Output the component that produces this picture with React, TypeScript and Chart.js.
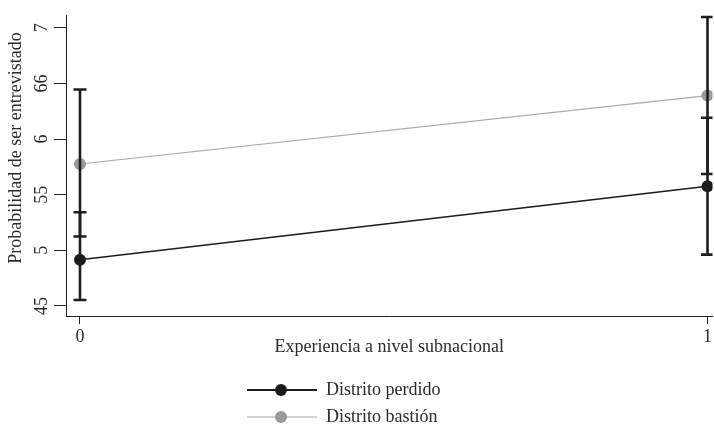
import React, { useEffect, useRef } from "react";
import { Chart, registerables } from "chart.js";

Chart.register(...registerables);

// ---------- data ----------
const xCategories = [0, 1];
const xTickLabels = ["0", "1"];
const seriesNames = ["Distrito perdido", "Distrito bastión"];
const perdidoValues = [0.4916, 0.5577];
const perdidoLower = [0.4554, 0.4962];
const perdidoUpper = [0.5342, 0.6192];
const bastionValues = [0.5776, 0.6391];
const bastionLower = [0.5124, 0.5686];
const bastionUpper = [0.6446, 0.7097];
const yTickValues = [0.45, 0.5, 0.55, 0.6, 0.65, 0.7];
const yTickLabels = ["45", "5", "55", "6", "66", "7"];
const xTitle = "Experiencia a nivel subnacional";
const yTitle = "Probabilidad de ser entrevistado";

// ---------- styles ----------
const FONT = "'Liberation Serif', 'DejaVu Serif', serif";
const BLACK = "#1b1b1b";
const GRAY_LINE = "#a8a8a8";
const GRAY_DOT = "#9a9a9a";
const WHISKER = "#1e1e1e";
const TEXT = "#2a2a2a";

const overlayPlugin = {
  id: "stataOverlay",
  afterDraw(chart: any) {
    const ctx = chart.ctx;
    ctx.save();
    // y-axis title
    ctx.fillStyle = TEXT;
    ctx.font = `18px ${FONT}`;
    ctx.textAlign = "center";
    ctx.textBaseline = "middle";
    ctx.translate(16, 148);
    ctx.rotate(-Math.PI / 2);
    ctx.fillText(yTitle, 0, 0);
    ctx.restore();

    // legend
    const entries = [
      { name: seriesNames[0], y: 390, lw: 2.2 },
      { name: seriesNames[1], y: 417, lw: 1.2 },
    ];
    ctx.save();
    entries.forEach((e) => {
      const ds = chart.data.datasets.find((d: any) => d.label === e.name);
      if (!ds) return;
      ctx.strokeStyle = ds.borderColor;
      ctx.lineWidth = e.lw;
      ctx.beginPath();
      ctx.moveTo(247, e.y);
      ctx.lineTo(317, e.y);
      ctx.stroke();
      ctx.fillStyle = ds.pointBackgroundColor;
      ctx.beginPath();
      ctx.arc(281, e.y, 6, 0, Math.PI * 2);
      ctx.fill();
      ctx.fillStyle = TEXT;
      ctx.font = `18px ${FONT}`;
      ctx.textAlign = "left";
      ctx.textBaseline = "middle";
      ctx.fillText(e.name, 326, e.y);
    });
    ctx.restore();
  },
};

export default function App() {
  const ref = useRef<HTMLCanvasElement | null>(null);

  useEffect(() => {
    if (!ref.current) return;
    Chart.defaults.font.family = FONT;
    Chart.defaults.color = TEXT;

    const whiskers: any[] = [];
    const addWhiskers = (lo: number[], hi: number[]) => {
      xCategories.forEach((x, i) => {
        whiskers.push({
          type: "line",
          label: "ci",
          data: [
            { x, y: lo[i] },
            { x, y: hi[i] },
          ],
          borderColor: WHISKER,
          borderWidth: 2.6,
          pointStyle: "line",
          pointRadius: 6.5,
          pointHoverRadius: 6.5,
          pointBorderWidth: 2.6,
          pointBorderColor: WHISKER,
          showLine: true,
        });
      });
    };
    addWhiskers(perdidoLower, perdidoUpper);
    addWhiskers(bastionLower, bastionUpper);

    const chart = new Chart(ref.current, {
      type: "line",
      data: {
        datasets: [
          ...whiskers,
          {
            type: "line",
            label: seriesNames[0],
            data: xCategories.map((x, i) => ({ x, y: perdidoValues[i] })),
            borderColor: BLACK,
            borderWidth: 1.5,
            pointRadius: 6,
            pointBorderWidth: 0,
            pointBackgroundColor: BLACK,
          },
          {
            type: "line",
            label: seriesNames[1],
            data: xCategories.map((x, i) => ({ x, y: bastionValues[i] })),
            borderColor: GRAY_LINE,
            borderWidth: 1.2,
            pointRadius: 6,
            pointBorderWidth: 0,
            pointBackgroundColor: GRAY_DOT,
          },
        ],
      },
      options: {
        responsive: false,
        animation: false,
        layout: {
          autoPadding: false,
          padding: { top: 15, left: 0, right: 0, bottom: 69 },
        },
        plugins: {
          legend: { display: false },
          tooltip: { enabled: false },
        },
        scales: {
          x: {
            type: "linear",
            min: -0.0223,
            max: 1.008,
            afterBuildTicks: (s: any) => {
              s.ticks = xCategories.map((v) => ({ value: v }));
            },
            afterFit: (s: any) => {
              s.height = 42;
            },
            ticks: {
              callback: (_v: any, i: number) => xTickLabels[i],
              font: { size: 18 },
              padding: 2,
              maxRotation: 0,
              minRotation: 0,
              color: TEXT,
            },
            grid: {
              display: true,
              drawOnChartArea: false,
              drawTicks: true,
              tickLength: 8,
              color: "#222",
              lineWidth: 1,
            },
            border: { display: true, color: "#222", width: 1 },
            title: {
              display: true,
              text: xTitle,
              font: { size: 18 },
              color: TEXT,
              padding: { top: 0, bottom: 0 },
            },
          },
          y: {
            type: "linear",
            min: 0.441,
            max: 0.7115,
            afterBuildTicks: (s: any) => {
              s.ticks = yTickValues.map((v) => ({ value: v }));
            },
            afterFit: (s: any) => {
              s.width = 66;
            },
            ticks: {
              callback: (_v: any, i: number) => yTickLabels[i],
              font: { size: 18 },
              minRotation: 90,
              maxRotation: 90,
              crossAlign: "center",
              padding: 3,
              color: TEXT,
            },
            grid: {
              display: true,
              drawOnChartArea: false,
              drawTicks: true,
              tickLength: 12,
              color: "#222",
              lineWidth: 1,
            },
            border: { display: true, color: "#222", width: 1 },
            title: { display: false },
          },
        },
      } as any,
      plugins: [overlayPlugin],
    });
    return () => chart.destroy();
  }, []);

  return (
    <div style={{ position: "absolute", left: 0, top: 0, width: 714, height: 427, background: "#fff" }}>
      <canvas ref={ref} width={714} height={427} />
    </div>
  );
}
